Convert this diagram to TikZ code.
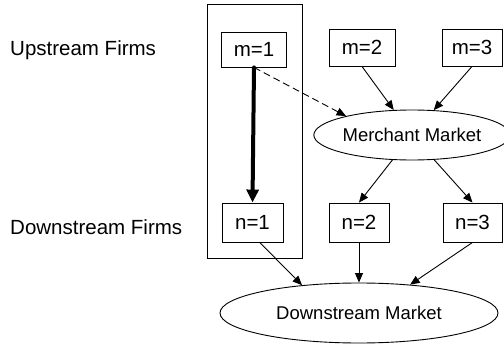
\documentclass[tikz,border=0pt]{standalone}
\usepackage{fontspec}
\setmainfont{Liberation Sans}
\usetikzlibrary{arrows.meta,shapes.geometric}
\begin{document}
\begin{tikzpicture}[x=1pt,y=-1pt,
  firm/.style={draw,line width=0.9pt,rectangle,inner sep=0pt,font=\fontsize{20.5}{24}\selectfont},
  market/.style={draw,line width=0.9pt,ellipse,inner sep=0pt,font=\fontsize{18.5}{22}\selectfont},
  lbl/.style={anchor=west,inner sep=0pt,font=\fontsize{20.5}{24}\selectfont},
  link/.style={line width=0.9pt,-{Triangle[length=9.5pt,width=8pt]}},
  thicklink/.style={line width=4pt,line cap=round,-{Triangle[length=13pt,width=12pt]}},
  dashlink/.style={line width=0.9pt,dash pattern=on 7pt off 4pt,-{Triangle[length=9.5pt,width=8pt]}}]
\useasboundingbox (0,0) rectangle (504,345);
% group box
\node[draw,line width=0.9pt,minimum width=95pt,minimum height=254pt,inner sep=0pt] (grp) at (254.5,131) {};
% labels
\node[lbl] (up) at (10,50) {Upstream Firms};
\node[lbl] (down) at (10,227) {Downstream Firms};
% firms
\node[firm,minimum width=65pt,minimum height=35pt] (m1) at (254,49.5) {m=1};
\node[firm,minimum width=66pt,minimum height=37pt] (m2) at (362,47.5) {m=2};
\node[firm,minimum width=60pt,minimum height=37pt] (m3) at (472,47.5) {m=3};
\node[firm,minimum width=61pt,minimum height=39pt] (n1) at (252.5,222.5) {n=1};
\node[firm,minimum width=60pt,minimum height=39pt] (n2) at (359,222.5) {n=2};
\node[firm,minimum width=59pt,minimum height=39pt] (n3) at (472.5,222.5) {n=3};
% markets
\node[market,minimum width=182pt,minimum height=50pt] (mm) at (412,135) {Merchant Market};
\node[market,minimum width=278pt,minimum height=60pt] (dm) at (359,313) {Downstream Market};
% connectors
\draw[dashlink] (m1.south) -- (mm.164);
\draw[thicklink] (m1.south) -- (n1.north);
\draw[link] (m2.south) -- (mm);
\draw[link] (m3.south) -- (mm);
\draw[link] (mm) -- (n2.north);
\draw[link] (mm) -- (n3.north);
\draw[link] (n1.-70) -- (dm.154);
\draw[link] (n2.south) -- (dm);
\draw[link] (n3.south) -- (dm.29);
\end{tikzpicture}
\end{document}
